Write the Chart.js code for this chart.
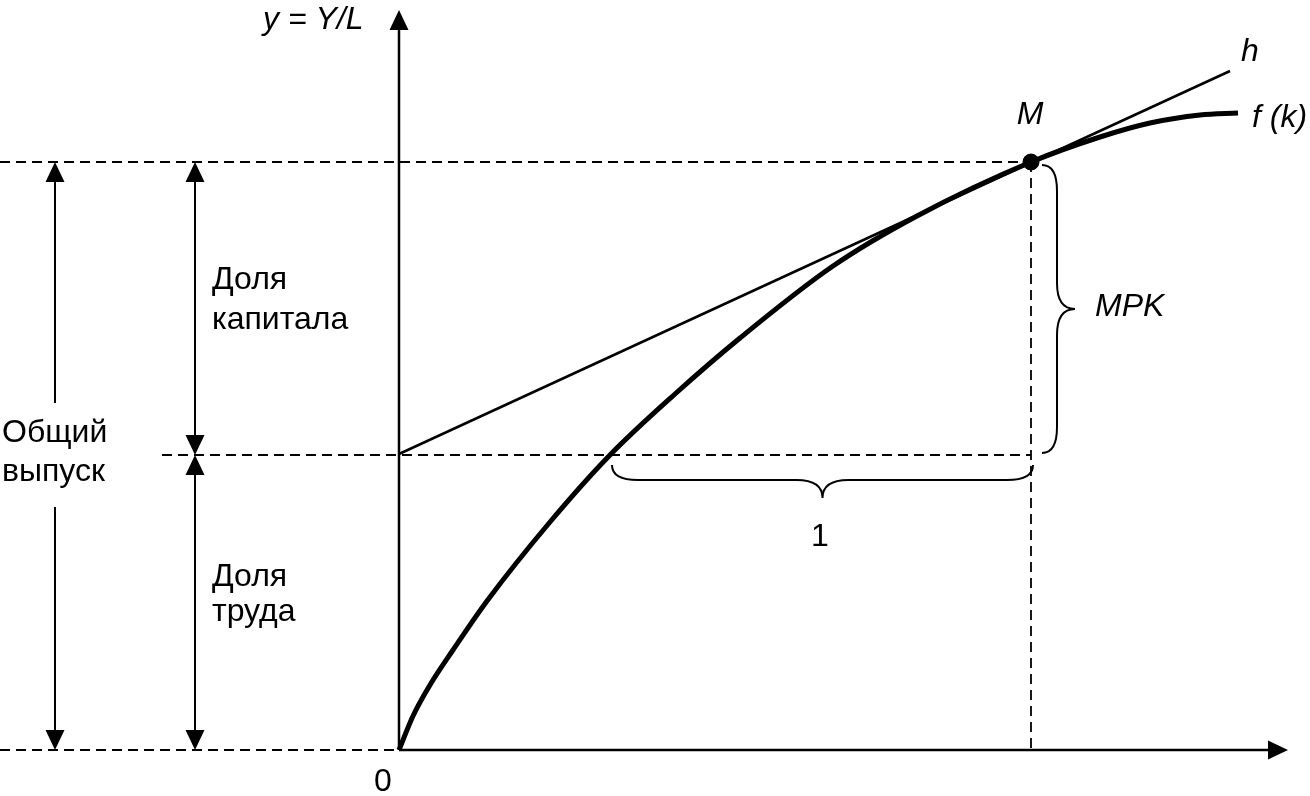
<!DOCTYPE html>
<html>
<head>
<meta charset="utf-8">
<script src="https://cdn.jsdelivr.net/npm/chart.js@4"></script>
<style>
  html, body { margin: 0; padding: 0; background: #fff; }
  #wrap { width: 1310px; height: 796px; position: relative; }
</style>
</head>
<body>
<div id="wrap"><canvas id="chart"></canvas></div>
<script>
// k along x, y = Y/L up; origin at the axes' crossing
const X_RANGE = [-3.99, 9.11];
const Y_RANGE = [-0.46, 7.50];

// production function f(k)
const curveK = [0, 0.14, 0.31, 0.54, 0.88, 1.51, 2.11, 2.76, 3.41, 4.34, 5.18, 6.32, 7.01, 7.51, 8.01, 8.39];
const curveY = [0, 0.34, 0.65, 1.00, 1.49, 2.28, 2.95, 3.56, 4.12, 4.84, 5.34, 5.88, 6.13, 6.27, 6.35, 6.37];

// tangent h through M
const tangentK = [0, 8.31];
const tangentY = [2.96, 6.79];

// point M
const pointM = { x: 6.32, y: 5.88 };

// dashed guide lines [x1, y1, x2, y2]
const guides = [
  [-3.99, 5.88, 6.32, 5.88],
  [-2.37, 2.95, 6.32, 2.95],
  [-3.99, 0, 0, 0],
  [6.32, 5.88, 6.32, 0]
];

// axes [x1, y1, x2, y2]
const axes = [
  [0, 0, 0, 7.30],
  [0, 0, 8.79, 0]
];

// measure arrows (shafts) [x1, y1, x2, y2]
const shafts = [
  [-3.44, 5.78, -3.44, 3.47],
  [-3.44, 2.43, -3.44, 0.10],
  [-2.04, 5.78, -2.04, 3.05],
  [-2.04, 2.85, -2.04, 0.10]
];

// arrowhead tips
const arrowTips = [
  { x: 0, y: 7.40, dir: 'up' },
  { x: 8.89, y: 0, dir: 'right' },
  { x: -3.44, y: 5.88, dir: 'up' },
  { x: -3.44, y: 0, dir: 'down' },
  { x: -2.04, y: 5.88, dir: 'up' },
  { x: -2.04, y: 2.95, dir: 'down' },
  { x: -2.04, y: 2.95, dir: 'up' },
  { x: -2.04, y: 0, dir: 'down' }
];

// curly braces: from -> to, bulging to the right of the direction
const braces = [
  { from: [2.13, 2.85], to: [6.34, 2.85] },
  { from: [6.43, 2.97], to: [6.43, 5.85] }
];

// text labels
const labels = [
  { text: 'y = Y/L', x: -1.36, y: 7.30, align: 'left', italic: true },
  { text: 'h', x: 8.51, y: 6.98, align: 'center', italic: true },
  { text: 'M', x: 6.31, y: 6.35, align: 'center', italic: true },
  { text: 'f (k)', x: 8.53, y: 6.32, align: 'left', italic: true },
  { text: 'MPK', x: 6.96, y: 4.43, align: 'left', italic: true },
  { text: '1', x: 4.21, y: 2.13, align: 'center' },
  { text: '0', x: -0.16, y: -0.32, align: 'center' },
  { text: 'Доля', x: -1.87, y: 4.70, align: 'left' },
  { text: 'капитала', x: -1.87, y: 4.30, align: 'left' },
  { text: 'Доля', x: -1.87, y: 1.73, align: 'left' },
  { text: 'труда', x: -1.87, y: 1.38, align: 'left' },
  { text: 'Общий', x: -3.97, y: 3.17, align: 'left' },
  { text: 'выпуск', x: -3.97, y: 2.78, align: 'left' }
];

const INK = '#000';
const FONT = '"Liberation Sans", Arial, sans-serif';

function segment(s, width, dash) {
  return {
    data: [{ x: s[0], y: s[1] }, { x: s[2], y: s[3] }],
    showLine: true,
    borderColor: INK,
    borderWidth: width,
    borderDash: dash || [],
    pointRadius: 0,
    clip: false
  };
}

const datasets = [];
guides.forEach(g => datasets.push(segment(g, 1.8, [10, 6])));
axes.forEach(a => datasets.push(segment(a, 2.5)));
shafts.forEach(s => datasets.push(segment(s, 2)));
datasets.push({
  data: tangentK.map((k, i) => ({ x: k, y: tangentY[i] })),
  showLine: true, borderColor: INK, borderWidth: 2.5, pointRadius: 0, clip: false
});
datasets.push({
  data: curveK.map((k, i) => ({ x: k, y: curveY[i] })),
  showLine: true, borderColor: INK, borderWidth: 5, pointRadius: 0,
  cubicInterpolationMode: 'monotone', clip: false
});
datasets.push({
  data: [pointM],
  showLine: false, pointRadius: 8, pointBackgroundColor: INK, pointBorderColor: INK, clip: false
});

/* === DECORATIONS: arrowheads, braces, text === */
function drawBrace(ctx, x1, y1, x2, y2) {
  const L = Math.hypot(x2 - x1, y2 - y1);
  const h = 15, D = 33, r = 26;
  ctx.save();
  ctx.translate(x1, y1);
  ctx.rotate(Math.atan2(y2 - y1, x2 - x1));
  ctx.beginPath();
  ctx.moveTo(0, 0);
  ctx.quadraticCurveTo(0, h, r, h);
  ctx.lineTo(L / 2 - r, h);
  ctx.quadraticCurveTo(L / 2, h, L / 2, D);
  ctx.quadraticCurveTo(L / 2, h, L / 2 + r, h);
  ctx.lineTo(L - r, h);
  ctx.quadraticCurveTo(L, h, L, 0);
  ctx.strokeStyle = INK;
  ctx.lineWidth = 2;
  ctx.stroke();
  ctx.restore();
}

function drawArrowHead(ctx, px, py, dir) {
  const len = 20, half = 9.5;
  const ang = { up: -Math.PI / 2, down: Math.PI / 2, right: 0, left: Math.PI }[dir];
  ctx.save();
  ctx.translate(px, py);
  ctx.rotate(ang);
  ctx.beginPath();
  ctx.moveTo(0, 0);
  ctx.lineTo(-len, -half);
  ctx.lineTo(-len, half);
  ctx.closePath();
  ctx.fillStyle = INK;
  ctx.fill();
  ctx.restore();
}

const decorPlugin = {
  id: 'decor',
  afterDatasetsDraw(chart) {
    const { ctx, scales: { x, y } } = chart;
    arrowTips.forEach(a => drawArrowHead(ctx, x.getPixelForValue(a.x), y.getPixelForValue(a.y), a.dir));
    braces.forEach(b => drawBrace(ctx,
      x.getPixelForValue(b.from[0]), y.getPixelForValue(b.from[1]),
      x.getPixelForValue(b.to[0]), y.getPixelForValue(b.to[1])));
    ctx.save();
    ctx.fillStyle = INK;
    ctx.textBaseline = 'middle';
    labels.forEach(l => {
      ctx.font = (l.italic ? 'italic ' : '') + '32px ' + FONT;
      ctx.textAlign = l.align;
      ctx.fillText(l.text, x.getPixelForValue(l.x), y.getPixelForValue(l.y));
    });
    ctx.restore();
  }
};

new Chart(document.getElementById('chart'), {
  type: 'scatter',
  data: { datasets },
  options: {
    responsive: true,
    maintainAspectRatio: false,
    animation: false,
    layout: { padding: 0, autoPadding: false },
    scales: {
      x: { type: 'linear', display: false, min: X_RANGE[0], max: X_RANGE[1] },
      y: { type: 'linear', display: false, min: Y_RANGE[0], max: Y_RANGE[1] }
    },
    plugins: { legend: { display: false }, tooltip: { enabled: false } }
  },
  plugins: [decorPlugin]
});
</script>
</body>
</html>
